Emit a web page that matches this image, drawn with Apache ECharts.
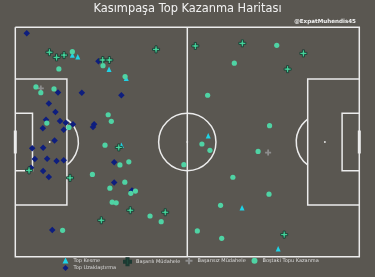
<!DOCTYPE html>
<html>
<head>
<meta charset="utf-8">
<script src="https://cdn.jsdelivr.net/npm/echarts@6/dist/echarts.min.js"></script>
<style>
html,body{margin:0;padding:0;background:#5a5751;}
#c{width:375px;height:277px;}
</style>
</head>
<body>
<div id="c"></div>
<script>
// Data in StatsBomb pitch coordinates (x 0-120, y 0-80 from top)
var topKesme = [
  [19.9, 9.7], [21.8, 10.3], [32.7, 14.6], [38.7, 17.8], [37.0, 41.1],
  [67.3, 37.8], [79.1, 62.9], [91.7, 77.2]
];
var topUzaklastirma = [
  [4.0, 2.1], [29.0, 11.8], [14.9, 22.7], [23.2, 22.8], [37.0, 23.7],
  [11.7, 26.6], [14.0, 29.5], [10.7, 32.2], [15.6, 32.7], [17.6, 33.3],
  [20.1, 33.8], [9.6, 35.2], [16.9, 35.7], [27.5, 33.8], [27.1, 34.8],
  [13.7, 39.5], [5.9, 42.2], [9.7, 42.0], [6.8, 45.9], [11.1, 45.8],
  [14.4, 46.6], [16.9, 46.4], [34.5, 47.1], [5.5, 49.0], [9.7, 50.1],
  [11.7, 52.2], [34.5, 54.1], [40.7, 56.9], [12.9, 70.7]
];
var basariliMudahele = [
  [11.9, 8.7], [14.4, 10.5], [17.0, 9.7], [49.1, 7.7], [30.5, 11.4],
  [32.8, 11.4], [36.1, 41.9], [4.8, 49.9], [19.1, 52.5], [40.1, 63.8],
  [52.3, 64.5], [30.0, 67.3], [62.8, 6.5], [79.2, 5.6], [100.5, 9.1],
  [95.0, 14.6], [93.8, 72.3]
];
var basarisizMudahele = [
  [8.9, 21.3], [88.2, 43.7]
];
var bostakiTopuKazanma = [
  [19.9, 8.5], [30.6, 13.4], [15.2, 14.5], [38.3, 17.2], [7.2, 20.8],
  [8.9, 22.8], [13.5, 21.5], [32.4, 30.5], [33.5, 32.8], [11.0, 33.4],
  [18.7, 34.9], [31.3, 41.1], [39.6, 46.9], [36.5, 48.0], [58.8, 47.9],
  [26.9, 51.3], [38.2, 54.0], [33.0, 56.1], [41.9, 57.1], [40.3, 57.9],
  [33.8, 61.0], [35.2, 61.2], [47.0, 65.8], [50.9, 67.8], [16.5, 70.8],
  [91.2, 6.3], [76.4, 12.5], [67.1, 23.7], [88.7, 34.3], [65.1, 40.7],
  [67.9, 42.9], [84.7, 43.3], [75.9, 52.3], [88.5, 58.2], [71.6, 62.1],
  [63.5, 71.0], [72.0, 73.6]
];

var PLUS = 'path://M35,0H65V35H100V65H65V100H35V65H0V35H35Z';
var LINE = '#ececec';

function pitch(params, api) {
  function p(x, y) { return api.coord([x, y]); }
  var s = (p(120, 0)[0] - p(0, 0)[0]) / 120;
  var st = {stroke: LINE, lineWidth: 1.5, fill: null};
  function poly(pts) {
    return {type: 'polyline', shape: {points: pts.map(function (q) { return p(q[0], q[1]); })}, style: st};
  }
  var c = p(60, 40), pl = p(12, 40), pr = p(108, 40);
  var a = Math.acos(0.6);
  return {
    type: 'group',
    children: [
      poly([[0, 0], [120, 0], [120, 80], [0, 80], [0, 0]]),
      poly([[60, 0], [60, 80]]),
      poly([[0, 18], [18, 18], [18, 62], [0, 62]]),
      poly([[0, 30], [6, 30], [6, 50], [0, 50]]),
      poly([[120, 18], [102, 18], [102, 62], [120, 62]]),
      poly([[120, 30], [114, 30], [114, 50], [120, 50]]),
      {type: 'circle', shape: {cx: c[0], cy: c[1], r: 10 * s}, style: st},
      {type: 'arc', shape: {cx: pl[0], cy: pl[1], r: 10 * s, startAngle: -a, endAngle: a, clockwise: true}, style: st},
      {type: 'arc', shape: {cx: pr[0], cy: pr[1], r: 10 * s, startAngle: Math.PI - a, endAngle: Math.PI + a, clockwise: true}, style: st},
      {type: 'circle', shape: {cx: c[0], cy: c[1], r: 0.9}, style: {fill: LINE}},
      {type: 'circle', shape: {cx: pl[0], cy: pl[1], r: 0.9}, style: {fill: LINE}},
      {type: 'circle', shape: {cx: pr[0], cy: pr[1], r: 0.9}, style: {fill: LINE}},
      {type: 'line', shape: {x1: p(0, 36)[0], y1: p(0, 36)[1], x2: p(0, 44)[0], y2: p(0, 44)[1]}, style: {stroke: LINE, lineWidth: 3}},
      {type: 'line', shape: {x1: p(120, 36)[0], y1: p(120, 36)[1], x2: p(120, 44)[0], y2: p(120, 44)[1]}, style: {stroke: LINE, lineWidth: 3}}
    ]
  };
}

var chart = echarts.init(document.getElementById('c'), null, {renderer: 'canvas'});
var legendText = {color: '#dcdcdc', fontSize: 5, fontFamily: 'DejaVu Sans'};
chart.setOption({
  backgroundColor: '#5a5751',
  animation: false,
  title: [
    {text: 'Kasımpaşa Top Kazanma Haritası', left: 'center', top: 3.5, padding: 0,
     textStyle: {color: '#f2f2f2', fontSize: 11.4, fontWeight: 'normal', fontFamily: 'DejaVu Sans'}},
    {text: '@ExpatMuhendis45', right: 19, top: 18.5, padding: 0,
     textStyle: {color: '#f2f2f2', fontSize: 5.6, fontWeight: 'bold', fontFamily: 'DejaVu Sans'}}
  ],
  grid: {left: 15.3, top: 27.3, width: 344, height: 229.4},
  xAxis: {type: 'value', min: 0, max: 120, show: false},
  yAxis: {type: 'value', min: 0, max: 80, inverse: true, show: false},
  legend: [
    {data: ['Top Kesme', 'Top Uzaklaştırma'], orient: 'vertical', left: 62.5, top: 257.5,
     itemWidth: 6, itemHeight: 6, itemGap: 1.5, padding: 0, textStyle: legendText},
    {data: ['Başarılı Müdahele'], left: 123, top: 257.2,
     itemWidth: 7, itemHeight: 7, padding: 0, textStyle: legendText},
    {data: ['Başarısız Müdahele'], left: 185.5, top: 257.2,
     itemWidth: 7, itemHeight: 7, padding: 0, textStyle: legendText},
    {data: ['Boştaki Topu Kazanma'], left: 251.5, top: 257.7,
     itemWidth: 6, itemHeight: 6, padding: 0, textStyle: legendText}
  ],
  series: [
    {type: 'custom', name: 'pitch', renderItem: pitch, data: [[0, 0]], silent: true, z: 1, clip: false},
    {type: 'scatter', name: 'Top Kesme', data: topKesme, symbol: 'triangle', symbolSize: [5, 5.5],
     itemStyle: {color: '#1fd3e6', opacity: 1}, z: 2},
    {type: 'scatter', name: 'Top Uzaklaştırma', data: topUzaklastirma, symbol: 'diamond', symbolSize: 6.5,
     itemStyle: {color: '#0e1e7e', opacity: 1}, z: 3},
    {type: 'scatter', name: 'Başarılı Müdahele', data: basariliMudahele, symbol: PLUS, symbolSize: 7,
     itemStyle: {color: '#45d69c', borderColor: '#1c3a32', borderWidth: 0.9, opacity: 1}, z: 4},
    {type: 'scatter', name: 'Başarısız Müdahele', data: basarisizMudahele, symbol: PLUS, symbolSize: 6,
     itemStyle: {color: '#8d8d8d', opacity: 1}, z: 5},
    {type: 'scatter', name: 'Boştaki Topu Kazanma', data: bostakiTopuKazanma, symbol: 'circle', symbolSize: 5.2,
     itemStyle: {color: '#4fd3a4', opacity: 1}, z: 6}
  ]
});
</script>
</body>
</html>
